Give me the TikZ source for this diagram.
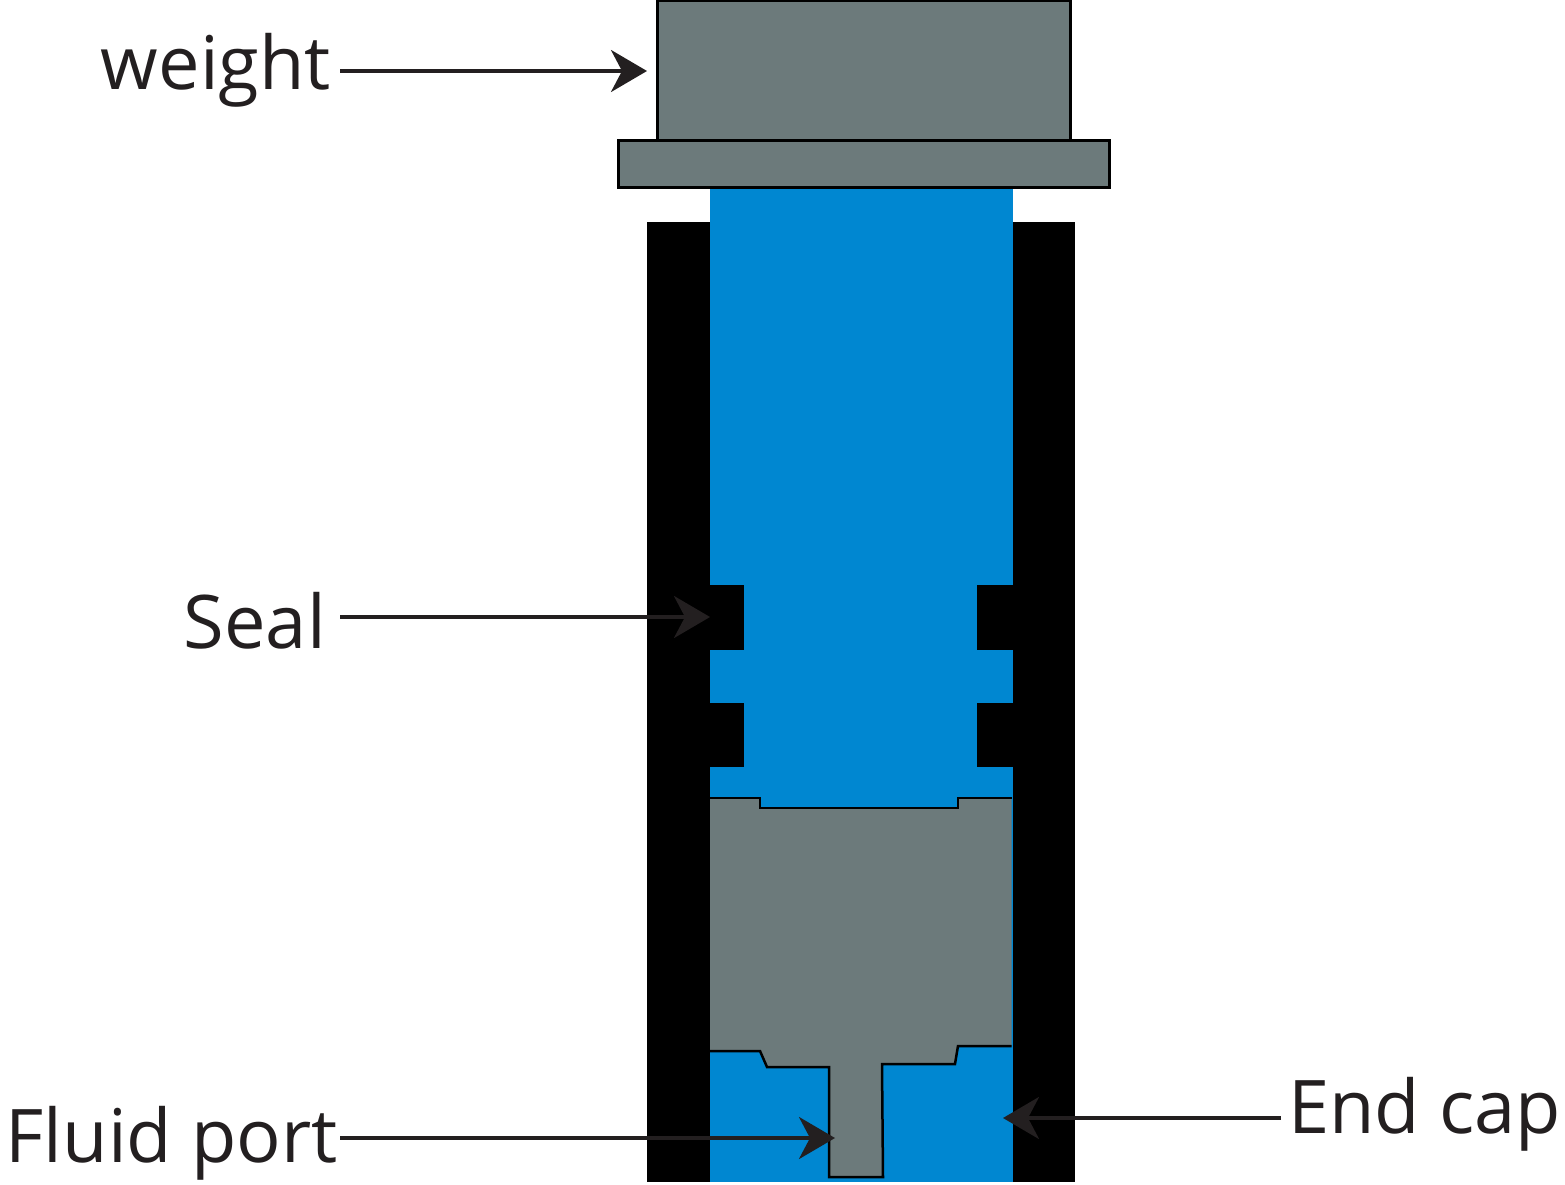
\documentclass[tikz,border=0pt]{standalone}
\usepackage{fontspec}
\setmainfont{Open Sans}
\usepackage{xcolor}
\usetikzlibrary{arrows.meta}

\definecolor{cylblue}{HTML}{0087D1}
\definecolor{capgray}{HTML}{6C7A7B}
\definecolor{labelink}{HTML}{231F20}

\begin{document}
\begin{tikzpicture}[
        x=1pt, y=-1pt,
        part/.style={draw=black, line width=3pt, fill=capgray},
        wall/.style={fill=black},
        callout/.style={draw=labelink, line width=3.5pt, -{Stealth[length=36pt, width=42pt, inset=11pt]}},
        every node/.style={inner sep=0pt, text=labelink, font=\fontsize{74}{74}\selectfont}
    ]
    \useasboundingbox (0,0) rectangle (1565,1185);

    % Fluid column
    \fill[cylblue] (710,189) rectangle (1012.5,1182);

    % Cylinder walls and seals
    \fill[wall] (647,222) rectangle (710,1182);
    \fill[wall] (1012.5,222) rectangle (1075,1182);
    \fill[wall] (709,585) rectangle (744,650);
    \fill[wall] (709,703) rectangle (744,767);
    \fill[wall] (977,585) rectangle (1013,650);
    \fill[wall] (977,703) rectangle (1013,767);

    % Weight on top
    \draw[part] (657.5,1) rectangle (1070,141);
    \draw[part] (618,141) rectangle (1109.5,188);

    % End cap
    \fill[capgray] (710,798) -- (760,798) -- (760,808) -- (958,808) -- (958,798) -- (1011.5,798)
        -- (1011.5,1046) -- (958,1046) -- (955,1064) -- (882,1064) -- (883,1177) -- (829,1177)
        -- (829,1067) -- (767,1067) -- (760,1051) -- (710,1051) -- cycle;
    \draw[black, line width=2.5pt] (710,798) -- (760,798) -- (760,808) -- (958,808) -- (958,798) -- (1011.5,798);
    \draw[black, line width=2.5pt] (1011.5,1046) -- (958,1046) -- (955,1064) -- (882,1064) -- (883,1177)
        -- (829,1177) -- (829,1067) -- (767,1067) -- (760,1051) -- (710,1051);

    % Labels
    \node[anchor=base east] (weight) at (331,90) {weight};
    \node[anchor=base east] (seal) at (326,648) {Seal};
    \node[anchor=base east] (port) at (338,1162) {Fluid port};
    \node[anchor=base west] (cap) at (1288,1133) {End cap};

    % Arrow tips
    \coordinate (weighttip) at (647,71);
    \coordinate (sealtip) at (710,617);
    \coordinate (porttip) at (835,1138);
    \coordinate (captip) at (1003,1118);

    % Arrows from labels to parts
    \draw[callout] (340,71) -- (weighttip);
    \draw[callout] (340,617) -- (sealtip);
    \draw[callout] (340,1138) -- (porttip);
    \draw[callout] (1281,1118) -- (captip);
\end{tikzpicture}
\end{document}
